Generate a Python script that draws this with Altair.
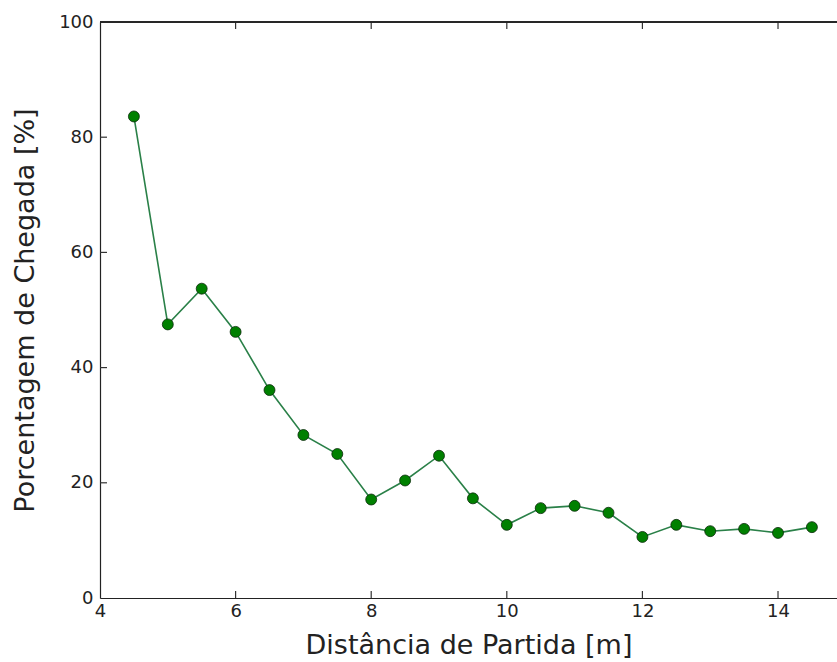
import altair as alt
import pandas as pd

# Arrival percentage versus starting distance
distancia = [4.5, 5.0, 5.5, 6.0, 6.5, 7.0, 7.5, 8.0, 8.5, 9.0, 9.5,
             10.0, 10.5, 11.0, 11.5, 12.0, 12.5, 13.0, 13.5, 14.0, 14.5]
chegada = [83.6, 47.5, 53.7, 46.2, 36.1, 28.3, 25.0, 17.1, 20.4, 24.7, 17.3,
           12.7, 15.6, 16.0, 14.8, 10.6, 12.7, 11.6, 12.0, 11.3, 12.3]

x_ticks = [4, 6, 8, 10, 12, 14]
y_ticks = [0, 20, 40, 60, 80, 100]

W, H = 737, 576
FONT = "DejaVu Sans"
TICK = 7

df = pd.DataFrame({"d": distancia, "p": chegada})
xs = alt.Scale(domain=[4, 14.87], nice=False, zero=False)
ys = alt.Scale(domain=[0, 100], nice=False, zero=False)

x_enc = alt.X("d:Q", scale=xs, title="Distância de Partida [m]",
              axis=alt.Axis(values=x_ticks, format="d", ticks=False, grid=False,
                            domainColor="#222222", domainWidth=1.2,
                            labelFont=FONT, labelFontSize=18, labelColor="#222222",
                            labelPadding=4, labelFlush=False,
                            titleFont=FONT, titleFontSize=27, titleFontWeight="normal",
                            titleColor="#222222", titlePadding=12))
y_enc = alt.Y("p:Q", scale=ys, title="Porcentagem de Chegada [%]",
              axis=alt.Axis(values=y_ticks, format="d", ticks=False, grid=False,
                            domainColor="#222222", domainWidth=1.2,
                            labelFont=FONT, labelFontSize=18, labelColor="#222222",
                            labelPadding=7, labelFlush=False,
                            titleFont=FONT, titleFontSize=27, titleFontWeight="normal",
                            titleColor="#222222", titlePadding=19))

line = alt.Chart(df).mark_line(color="#2a8048", strokeWidth=1.6).encode(x=x_enc, y=y_enc)
points = alt.Chart(df).mark_point(filled=True, color="#008000", size=120, opacity=1,
                                  stroke="#0a2a0a", strokeWidth=0.8).encode(x="d:Q", y="p:Q")

# inward ticks on bottom, top and left, plus the top spine
bx = pd.DataFrame({"t": x_ticks[1:]})
ly = pd.DataFrame({"t": y_ticks[1:-1]})
tick_style = dict(color="#333333", strokeWidth=1.2)
bottom_ticks = alt.Chart(bx).mark_rule(**tick_style).encode(
    x=alt.X("t:Q", scale=xs), y=alt.value(H - TICK), y2=alt.value(H))
top_ticks = alt.Chart(bx).mark_rule(**tick_style).encode(
    x=alt.X("t:Q", scale=xs), y=alt.value(0), y2=alt.value(TICK))
left_ticks = alt.Chart(ly).mark_rule(**tick_style).encode(
    y=alt.Y("t:Q", scale=ys), x=alt.value(0), x2=alt.value(TICK))
top_spine = alt.Chart(bx).mark_rule(color="#222222", strokeWidth=1.2).encode(
    x=alt.value(0), x2=alt.value(W), y=alt.value(0))

chart = alt.layer(line, points, bottom_ticks, top_ticks, left_ticks, top_spine).properties(
    width=W, height=H,
    autosize=alt.AutoSizeParams(type="none"),
    padding={"left": 100, "top": 22, "right": 0, "bottom": 64},
).configure_view(stroke=None).configure(background="white")

chart.save("out.html", embed_options={"renderer": "svg", "actions": False})
